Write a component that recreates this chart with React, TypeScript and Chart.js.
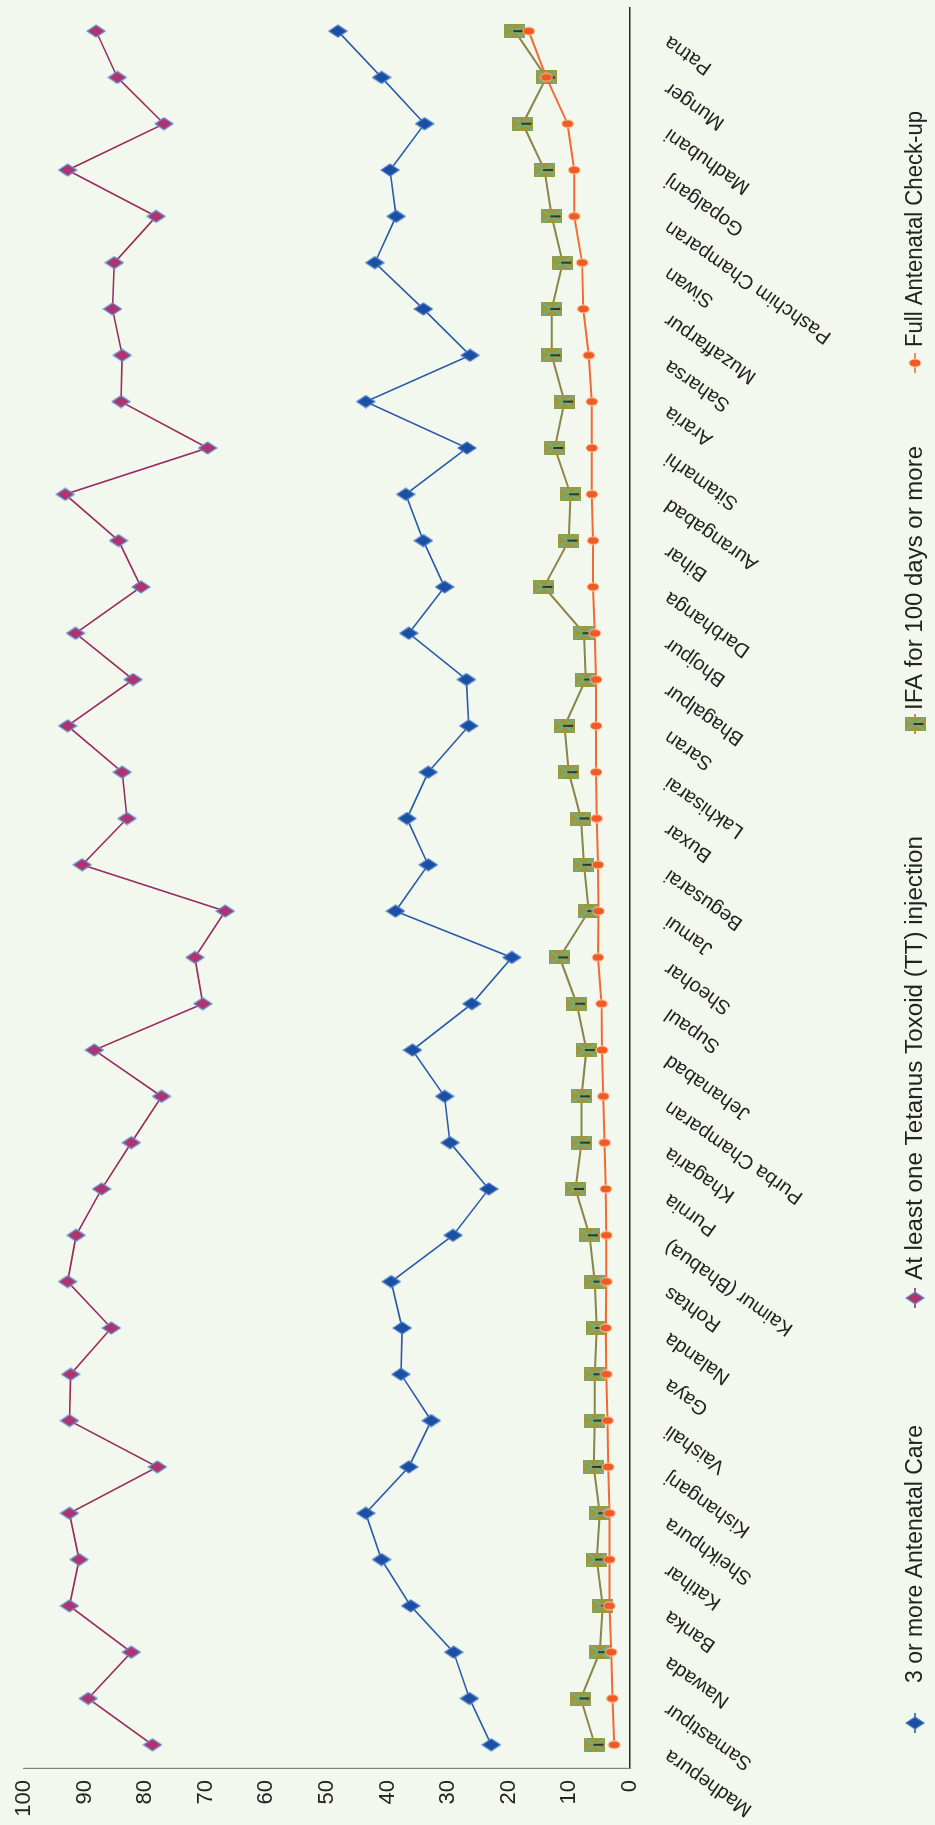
import React, { useEffect, useRef } from "react";
import { Chart, registerables } from "chart.js";

Chart.register(...registerables);

const categories = [
  "Madhepura", "Samastipur", "Nawada", "Banka", "Katihar", "Sheikhpura", "Kishanganj", "Vaishali",
  "Gaya", "Nalanda", "Rohtas", "Kaimur (Bhabua)", "Purnia", "Khagaria", "Purba Champaran", "Jehanabad",
  "Supaul", "Sheohar", "Jamui", "Begusarai", "Buxar", "Lakhisarai", "Saran", "Bhagalpur", "Bhojpur",
  "Darbhanga", "Bihar", "Aurangabad", "Sitamarhi", "Araria", "Saharsa", "Muzaffarpur", "Siwan",
  "Pashchim Champaran", "Gopalganj", "Madhubani", "Munger", "Patna",
];

const anc3 = [
  22.9, 26.5, 29.1, 36.2, 41.0, 43.6, 36.5, 32.8, 37.8, 37.6, 39.4, 29.2, 23.3, 29.7, 30.6, 35.9,
  26.1, 19.5, 38.7, 33.3, 36.8, 33.3, 26.6, 27.0, 36.5, 30.6, 34.1, 37.0, 26.9, 43.6, 26.4, 34.1,
  42.1, 38.6, 39.6, 33.9, 41.0, 48.2,
];

const tt = [
  78.8, 89.4, 82.3, 92.5, 90.9, 92.5, 78.0, 92.5, 92.3, 85.6, 92.8, 91.4, 87.2, 82.3, 77.3, 88.4,
  70.5, 71.8, 66.8, 90.4, 83.0, 83.8, 92.8, 82.0, 91.5, 80.7, 84.4, 93.2, 69.7, 84.0, 83.8, 85.4,
  85.1, 78.2, 92.8, 76.9, 84.6, 88.1,
];

const ifa = [
  5.8, 8.1, 5.0, 4.5, 5.5, 5.0, 6.0, 5.8, 5.8, 5.5, 5.8, 6.7, 9.0, 8.0, 8.0, 7.2,
  8.8, 11.6, 6.8, 7.6, 8.1, 10.1, 10.8, 7.3, 7.6, 14.2, 10.1, 9.8, 12.4, 10.8, 12.9, 12.9,
  11.1, 12.9, 14.1, 17.7, 13.8, 19.0,
];

const fullAnc = [
  2.6, 2.9, 3.1, 3.4, 3.4, 3.4, 3.6, 3.7, 3.9, 4.0, 3.9, 3.9, 4.0, 4.2, 4.4, 4.6,
  4.7, 5.3, 5.2, 5.3, 5.5, 5.6, 5.6, 5.6, 5.8, 6.1, 6.1, 6.3, 6.3, 6.3, 6.8, 7.7,
  7.9, 9.2, 9.2, 10.3, 13.8, 16.7,
];

const seriesNames = [
  "3 or more Antenatal Care",
  "At least one Tetanus Toxoid (TT) injection",
  "IFA for 100 days or more",
  "Full Antenatal Check-up",
];

const yTicks = [0, 10, 20, 30, 40, 50, 60, 70, 80, 90, 100];

const BG = "#F3F8EE";
const FONT = "'Liberation Sans', Arial, sans-serif";
const W = 1825;
const H = 935;

function makeDiamond(fill: string, stroke: string) {
  const c = document.createElement("canvas");
  c.width = 14;
  c.height = 20;
  const g = c.getContext("2d")!;
  g.beginPath();
  g.moveTo(7, 1);
  g.lineTo(13, 10);
  g.lineTo(7, 19);
  g.lineTo(1, 10);
  g.closePath();
  g.fillStyle = fill;
  g.fill();
  g.lineWidth = 1.2;
  g.strokeStyle = stroke;
  g.stroke();
  return c;
}

function makeBox() {
  const c = document.createElement("canvas");
  c.width = 14;
  c.height = 21;
  const g = c.getContext("2d")!;
  g.fillStyle = "#9C993C";
  g.fillRect(0, 0, 14, 21);
  g.strokeStyle = "#46C2C8";
  g.lineWidth = 1.2;
  g.beginPath();
  g.moveTo(1, 1);
  g.lineTo(13, 20);
  g.moveTo(13, 1);
  g.lineTo(1, 20);
  g.stroke();
  g.strokeStyle = "#1E1E1E";
  g.lineWidth = 1.6;
  g.beginPath();
  g.moveTo(7, 9);
  g.lineTo(7, 19);
  g.stroke();
  return c;
}

function makeEllipse() {
  const c = document.createElement("canvas");
  c.width = 10;
  c.height = 14;
  const g = c.getContext("2d")!;
  g.beginPath();
  g.ellipse(5, 7, 4, 6, 0, 0, Math.PI * 2);
  g.fillStyle = "#F05A24";
  g.fill();
  g.lineWidth = 1;
  g.strokeStyle = "#FBC9A6";
  g.stroke();
  return c;
}

export default function App() {
  const ref = useRef<HTMLCanvasElement | null>(null);

  useEffect(() => {
    if (!ref.current) return;
    const blueDiamond = makeDiamond("#1B4FA3", "#4F7FC9");
    const purpleDiamond = makeDiamond("#B0336F", "#5B9BD5");
    const box = makeBox();
    const ell = makeEllipse();
    const markers = [blueDiamond, purpleDiamond, box, ell];
    const lineColors = ["#2A5BA8", "#9B2A5E", "#87874A", "#F26A30"];

    const legendPos = [
      { m: 102, t: 142, w: 258 },
      { m: 527, t: 545, w: 444 },
      { m: 1101, t: 1115, w: 264 },
      { m: 1462, t: 1478, w: 236 },
    ];

    const legendPlugin = {
      id: "customLegend",
      afterDraw(chart: any) {
        const ctx = chart.ctx;
        const ly = 915;
        ctx.save();
        seriesNames.forEach((name, i) => {
          const p = legendPos[i];
          ctx.strokeStyle = lineColors[i];
          ctx.lineWidth = 1.6;
          ctx.beginPath();
          ctx.moveTo(p.m - 10, ly);
          ctx.lineTo(p.m + 10, ly);
          ctx.stroke();
          const mk = markers[i];
          ctx.drawImage(mk, p.m - mk.width / 2, ly - mk.height / 2);
          ctx.fillStyle = "#222222";
          ctx.font = `23px ${FONT}`;
          ctx.textBaseline = "middle";
          ctx.textAlign = "left";
          const nat = ctx.measureText(name).width;
          ctx.save();
          ctx.translate(p.t, ly + 1);
          ctx.scale(p.w / nat, 1);
          ctx.fillText(name, 0, 0);
          ctx.restore();
        });
        ctx.restore();
      },
    };

    const chart = new Chart(ref.current, {
      type: "line",
      data: {
        labels: categories,
        datasets: [
          {
            label: seriesNames[0],
            data: anc3,
            borderColor: lineColors[0],
            borderWidth: 1.6,
            pointStyle: blueDiamond as any,
            order: 1,
          },
          {
            label: seriesNames[1],
            data: tt,
            borderColor: lineColors[1],
            borderWidth: 1.6,
            pointStyle: purpleDiamond as any,
            order: 0,
          },
          {
            label: seriesNames[2],
            data: ifa,
            borderColor: lineColors[2],
            borderWidth: 2,
            pointStyle: box as any,
            order: 3,
          },
          {
            label: seriesNames[3],
            data: fullAnc,
            borderColor: lineColors[3],
            borderWidth: 2,
            pointStyle: ell as any,
            order: 2,
          },
        ],
      },
      options: {
        responsive: false,
        animation: false,
        devicePixelRatio: 1,
        layout: { padding: { top: 24, right: 4, left: 0, bottom: 0 } },
        elements: { line: { tension: 0 }, point: { radius: 6 } },
        plugins: { legend: { display: false }, tooltip: { enabled: false } },
        scales: {
          x: {
            type: "category",
            offset: true,
            grid: { display: false, drawTicks: false },
            border: { display: true, color: "#2B2B2B", width: 1.5 },
            ticks: {
              autoSkip: false,
              minRotation: 55,
              maxRotation: 55,
              padding: 30,
              labelOffset: -9,
              color: "#222222",
              font: { family: FONT, size: 20 },
            },
            afterFit: (s: any) => {
              s.height = 305;
              s.paddingRight = 0;
              s.paddingLeft = 0;
            },
          },
          y: {
            min: 0,
            max: 100,
            afterBuildTicks: (s: any) => {
              s.ticks = yTicks.map((v) => ({ value: v }));
            },
            grid: { display: false, drawTicks: false },
            border: { display: true, color: "#808080", width: 1.2 },
            ticks: {
              padding: 12,
              color: "#222222",
              font: { family: FONT, size: 22 },
            },
            afterFit: (s: any) => {
              s.width = 57;
              s.paddingTop = 0;
              s.paddingBottom = 0;
            },
          },
        },
      },
      plugins: [legendPlugin],
    } as any);

    return () => chart.destroy();
  }, []);

  return (
    <div
      style={{
        position: "absolute",
        left: 0,
        top: 0,
        width: H,
        height: W,
        overflow: "hidden",
        background: BG,
      }}
    >
      <div
        style={{
          position: "absolute",
          left: 0,
          top: 0,
          width: W,
          height: H,
          transformOrigin: "0 0",
          transform: `translateY(${W}px) rotate(-90deg)`,
        }}
      >
        <canvas ref={ref} width={W} height={H} style={{ display: "block" }} />
      </div>
    </div>
  );
}
